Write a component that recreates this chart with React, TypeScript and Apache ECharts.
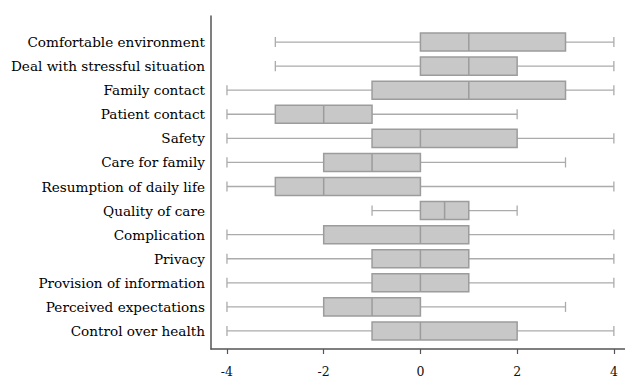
import React, { useEffect, useRef } from "react";
import * as echarts from "echarts";

const categories = [
  "Comfortable environment",
  "Deal with stressful situation",
  "Family contact",
  "Patient contact",
  "Safety",
  "Care for family",
  "Resumption of daily life",
  "Quality of care",
  "Complication",
  "Privacy",
  "Provision of information",
  "Perceived expectations",
  "Control over health",
];
const minVals = [-3, -3, -4, -4, -4, -4, -4, -1, -4, -4, -4, -4, -4];
const q1Vals = [0, 0, -1, -3, -1, -2, -3, 0, -2, -1, -1, -2, -1];
const medianVals = [1, 1, 1, -2, 0, -1, -2, 0.5, 0, 0, 0, -1, 0];
const q3Vals = [3, 2, 3, -1, 2, 0, 0, 1, 1, 1, 1, 0, 2];
const maxVals = [4, 4, 4, 2, 4, 3, 4, 2, 4, 4, 4, 3, 4];
const xTicks = [-4, -2, 0, 2, 4];

const FONT = "DejaVu Serif";

export default function App() {
  const ref = useRef<HTMLDivElement>(null);
  useEffect(() => {
    document.body.style.margin = "0";
    const chart = echarts.init(ref.current!, undefined, { renderer: "svg" });
    const data = categories.map((_, i) => [
      i,
      minVals[i],
      q1Vals[i],
      medianVals[i],
      q3Vals[i],
      maxVals[i],
    ]);
    const xMin = -4.33;
    const xMax = 4.23;
    chart.setOption({
      animation: false,
      grid: [
        { left: 211, right: 0, top: 16, bottom: 21 },
        { left: 211, right: 0, top: 30, bottom: 35 },
      ],
      xAxis: [
        {
          gridIndex: 0,
          type: "value",
          min: xMin,
          max: xMax,
          axisLine: { show: true, onZero: false, lineStyle: { color: "#555", width: 1.5 } },
          axisTick: {
            show: true,
            length: 5,
            customValues: xTicks,
            lineStyle: { color: "#555", width: 1.2 },
          },
          axisLabel: {
            customValues: xTicks,
            margin: 16,
            fontFamily: FONT,
            fontSize: 12.5,
            color: "#111",
          },
          splitLine: { show: false },
        },
        {
          gridIndex: 1,
          type: "value",
          min: xMin,
          max: xMax,
          show: false,
        },
      ],
      yAxis: [
        {
          gridIndex: 0,
          type: "value",
          min: 0,
          max: 1,
          axisLine: { show: true, onZero: false, lineStyle: { color: "#555", width: 1.5 } },
          axisTick: { show: false },
          axisLabel: { show: false },
          splitLine: { show: false },
        },
        {
          gridIndex: 1,
          type: "category",
          data: categories,
          inverse: true,
          axisLine: { show: false },
          axisTick: { show: false },
          axisLabel: {
            margin: 6,
            fontFamily: FONT,
            fontSize: 13.6,
            color: "#000",
          },
          splitLine: { show: false },
        },
      ],
      series: [
        {
          type: "custom",
          xAxisIndex: 1,
          yAxisIndex: 1,
          encode: { x: [1, 2, 3, 4, 5], y: 0 },
          data,
          renderItem: (params: any, api: any) => {
            const idx = api.value(0);
            const pMin = api.coord([api.value(1), idx]);
            const pQ1 = api.coord([api.value(2), idx]);
            const pMed = api.coord([api.value(3), idx]);
            const pQ3 = api.coord([api.value(4), idx]);
            const pMax = api.coord([api.value(5), idx]);
            const band = api.size([0, 1])[1];
            const bh = band * 0.75;
            const ch = band * 0.42;
            const y = pMed[1];
            const whisker = { stroke: "#ababab", lineWidth: 1.3 };
            const boxStroke = "#9c9c9c";
            return {
              type: "group",
              children: [
                { type: "line", shape: { x1: pMin[0], y1: y, x2: pQ1[0], y2: y }, style: whisker },
                { type: "line", shape: { x1: pQ3[0], y1: y, x2: pMax[0], y2: y }, style: whisker },
                { type: "line", shape: { x1: pMin[0], y1: y - ch / 2, x2: pMin[0], y2: y + ch / 2 }, style: whisker },
                { type: "line", shape: { x1: pMax[0], y1: y - ch / 2, x2: pMax[0], y2: y + ch / 2 }, style: whisker },
                {
                  type: "rect",
                  shape: { x: pQ1[0], y: y - bh / 2, width: pQ3[0] - pQ1[0], height: bh },
                  style: { fill: "#c8c8c8", stroke: boxStroke, lineWidth: 1.5 },
                },
                {
                  type: "line",
                  shape: { x1: pMed[0], y1: y - bh / 2, x2: pMed[0], y2: y + bh / 2 },
                  style: { stroke: boxStroke, lineWidth: 1.5 },
                },
              ],
            };
          },
        },
      ],
    });
    return () => chart.dispose();
  }, []);
  return <div ref={ref} style={{ width: 625, height: 378 }} />;
}
